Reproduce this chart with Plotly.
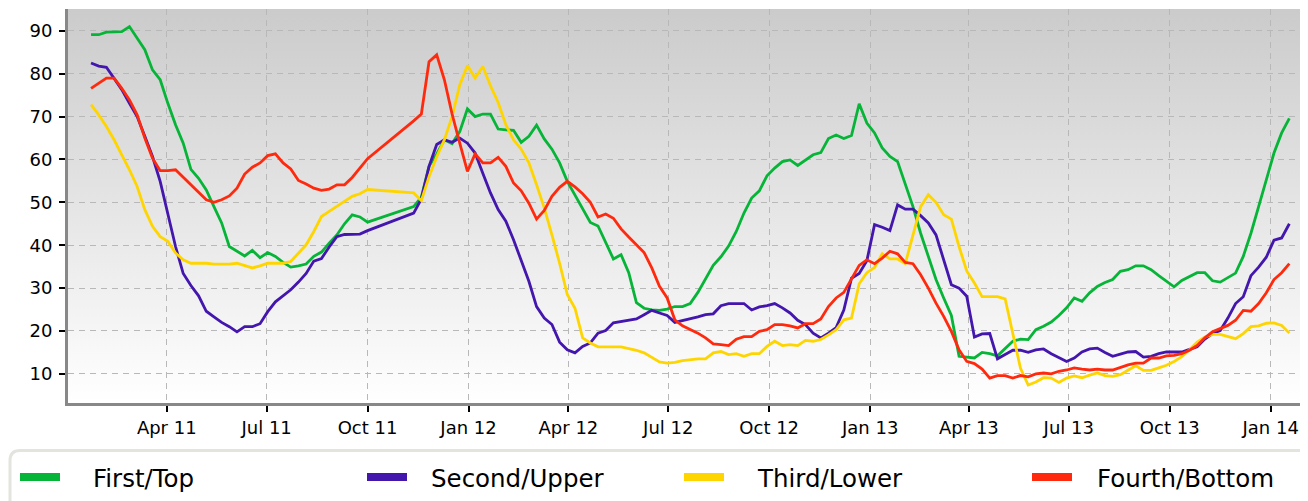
import base64
import pandas as pd
import plotly.graph_objects as go

# ---------------- data ----------------
start_week = "2011-01-22"
n_weeks = 157
gap_start, gap_end = "2011-10-08", "2011-11-05"   # weeks without data

all_weeks = pd.date_range(start_week, periods=n_weeks, freq="7D")
missing = pd.date_range(gap_start, gap_end, freq="7D")
dates = all_weeks.difference(missing)

series_names = ["First/Top", "Second/Upper", "Third/Lower", "Fourth/Bottom"]

first_top = [
    89.1, 89.1, 89.7, 89.7, 89.8, 91.0, 88.3, 85.6, 80.9, 78.6,
    73.1, 68.1, 63.8, 57.7, 55.6, 52.9, 49.0, 45.2, 39.7, 38.5,
    37.5, 38.8, 37.1, 38.3, 37.4, 36.0, 34.9, 35.2, 35.6, 37.4,
    38.4, 40.5, 42.4, 45.0, 47.1, 46.6, 45.4,
    49.0, 51.2, 58.4, 61.3, 64.6, 63.7, 66.5, 71.8, 70.0, 70.6,
    70.6, 67.1, 66.9, 66.8, 64.0, 65.4, 68.0, 64.8, 62.4, 59.2,
    54.9, 51.8, 48.4, 45.3, 44.5, 40.6, 36.8, 37.8, 33.6, 26.6,
    25.3, 24.9, 24.8, 25.1, 25.7, 25.7, 26.4, 29.0, 32.0, 35.3,
    37.3, 39.8, 43.2, 47.5, 51.0, 52.7, 56.2, 58.0, 59.5, 59.9,
    58.6, 59.8, 61.1, 61.6, 64.9, 65.7, 64.9, 65.6, 73.0, 68.5,
    66.2, 62.7, 60.7, 59.5, 54.5, 49.0, 42.8, 37.4, 32.0, 27.7,
    23.6, 14.1, 13.9, 13.7, 15.0, 14.7, 14.2, 16.0, 17.6, 18.1,
    18.0, 20.3, 21.1, 22.1, 23.6, 25.4, 27.7, 26.9, 28.9, 30.4,
    31.3, 32.0, 33.9, 34.3, 35.2, 35.2, 34.3, 32.9, 31.6, 30.3,
    31.8, 32.7, 33.6, 33.6, 31.7, 31.4, 32.4, 33.5, 37.4, 42.8,
    49.0, 55.3, 61.5, 66.2, 69.6,
]

second_upper = [
    82.5, 81.8, 81.5, 79.0, 76.3, 73.1, 70.0, 65.4, 60.7, 54.9,
    47.1, 39.7, 33.4, 30.6, 28.2, 24.6, 23.3, 22.0, 21.0, 19.8,
    21.0, 21.0, 21.7, 24.5, 26.8, 28.3, 29.6, 31.4, 33.4, 36.3,
    36.9, 39.6, 42.0, 42.5, 42.5, 42.6, 43.4,
    47.5, 50.8, 58.4, 63.5, 64.6, 64.0, 65.0, 63.8, 61.5, 56.8,
    52.2, 48.3, 45.6, 41.3, 36.6, 31.6, 25.7, 23.0, 21.5, 17.4,
    15.6, 14.9, 16.4, 17.2, 19.5, 20.1, 21.9, 22.2, 22.5, 22.8,
    23.8, 24.8, 24.2, 23.6, 22.0, 22.4, 22.8, 23.3, 23.8, 24.0,
    25.9, 26.4, 26.4, 26.4, 24.9, 25.6, 25.9, 26.4, 25.4, 24.2,
    22.5, 21.5, 19.5, 18.4, 19.5, 20.8, 24.9, 32.3, 33.4, 36.4,
    44.8, 44.2, 43.4, 49.4, 48.4, 48.4, 46.9, 45.2, 42.4, 36.6,
    30.8, 30.0, 28.1, 18.6, 19.3, 19.4, 13.5, 14.5, 15.5, 15.5,
    15.0, 15.6, 15.8, 14.7, 13.7, 12.9, 13.7, 15.1, 15.8, 16.0,
    15.0, 14.1, 14.6, 15.1, 15.2, 13.9, 14.1, 14.7, 15.1, 15.1,
    15.1, 15.7, 16.3, 18.1, 19.4, 20.1, 23.0, 26.4, 28.0, 32.9,
    34.9, 37.2, 41.2, 41.7, 45.0,
]

third_lower = [
    72.8, 70.4, 67.7, 64.6, 61.1, 57.6, 53.7, 48.3, 44.4, 42.0,
    40.9, 38.2, 36.6, 35.8, 35.8, 35.8, 35.6, 35.6, 35.6, 35.8,
    35.2, 34.7, 35.2, 35.8, 35.8, 35.8, 36.2, 38.2, 40.1, 43.2,
    46.7, 47.9, 49.0, 50.2, 51.4, 52.0, 53.0,
    52.2, 50.4, 56.0, 60.6, 64.6, 70.0, 77.4, 81.9, 79.0, 81.7,
    77.2, 73.3, 68.1, 64.6, 62.4, 59.2, 54.1, 48.7, 42.4, 35.8,
    28.5, 25.3, 18.4, 17.2, 16.3, 16.3, 16.4, 16.3, 15.9, 15.5,
    14.9, 13.9, 12.8, 12.5, 12.7, 13.1, 13.3, 13.5, 13.5, 14.9,
    15.2, 14.5, 14.7, 14.1, 14.7, 14.7, 16.4, 17.6, 16.6, 16.8,
    16.6, 17.8, 17.6, 18.0, 19.1, 20.3, 22.6, 23.0, 31.0, 33.6,
    34.8, 38.0, 36.8, 36.8, 35.7, 42.4, 49.0, 51.8, 50.0, 47.1,
    46.1, 39.7, 34.0, 31.2, 28.0, 28.0, 28.0, 27.5, 19.5, 11.3,
    7.4, 8.1, 9.1, 9.0, 8.0, 9.0, 9.5, 9.1, 9.7, 10.2,
    9.6, 9.4, 9.8, 10.8, 11.9, 10.8, 10.8, 11.4, 12.0, 12.9,
    14.0, 15.6, 17.4, 18.6, 19.2, 19.2, 18.7, 18.2, 19.4, 21.0,
    21.2, 21.8, 21.9, 21.3, 19.5,
]

fourth_bottom = [
    76.6, 77.8, 79.0, 79.0, 76.6, 73.9, 70.4, 65.0, 60.3, 57.4,
    57.4, 57.6, 55.8, 54.1, 52.2, 50.6, 50.0, 50.6, 51.5, 53.3,
    56.6, 58.2, 59.2, 60.9, 61.3, 59.2, 57.8, 55.1, 54.3, 53.3,
    52.8, 53.1, 54.1, 54.1, 55.8, 58.0, 60.2,
    69.0, 70.6, 82.8, 84.4, 78.6, 70.6, 63.8, 57.2, 61.3, 59.2,
    59.2, 60.5, 58.4, 54.5, 52.7, 49.8, 46.1, 48.1, 51.4, 53.5,
    54.9, 53.6, 52.0, 50.0, 46.6, 47.3, 46.3, 43.8, 41.9, 40.1,
    38.3, 34.7, 30.4, 27.7, 22.6, 21.2, 20.3, 19.5, 18.4, 17.0,
    16.8, 16.6, 18.1, 18.7, 18.7, 19.9, 20.3, 21.5, 21.5, 21.2,
    20.7, 21.7, 21.7, 22.8, 25.7, 27.7, 29.0, 32.3, 35.3, 36.6,
    35.7, 37.0, 38.6, 38.0, 36.0, 35.7, 33.1, 30.0, 26.5, 23.4,
    19.9, 15.6, 12.9, 12.4, 11.1, 9.0, 9.6, 9.6, 9.0, 9.6,
    9.3, 10.0, 10.2, 10.0, 10.6, 10.9, 11.4, 11.1, 10.9, 11.1,
    10.9, 10.9, 11.5, 12.1, 12.5, 12.5, 13.7, 13.7, 14.2, 14.3,
    14.7, 15.5, 16.6, 18.4, 19.8, 20.5, 21.3, 22.5, 24.8, 24.6,
    26.4, 28.9, 32.0, 33.6, 35.7,
]

tick_dates = ["2011-04-01", "2011-07-01", "2011-10-01", "2012-01-01",
              "2012-04-01", "2012-07-01", "2012-10-01", "2013-01-01",
              "2013-04-01", "2013-07-01", "2013-10-01", "2014-01-01"]
tick_labels = ["Apr 11", "Jul 11", "Oct 11", "Jan 12", "Apr 12", "Jul 12",
               "Oct 12", "Jan 13", "Apr 13", "Jul 13", "Oct 13", "Jan 14"]
y_ticks = [10, 20, 30, 40, 50, 60, 70, 80, 90]

# ---------------- styles ----------------
colors = ["#06b537", "#4316ad", "#ffd500", "#ff2a0e"]
FONT = "DejaVu Sans"

fig = go.Figure()
for name, vals, col in zip(series_names,
                           [first_top, second_upper, third_lower, fourth_bottom],
                           colors):
    fig.add_trace(go.Scatter(x=dates, y=vals, mode="lines", name=name,
                             line=dict(color=col, width=2.8),
                             showlegend=False))

# gradient background of plot area
svg = ('<svg xmlns="http://www.w3.org/2000/svg" width="100" height="100" '
       'preserveAspectRatio="none"><defs><linearGradient id="g" x1="0" y1="0" '
       'x2="0" y2="1"><stop offset="0" stop-color="#cbcbcb"/>'
       '<stop offset="1" stop-color="#ffffff"/></linearGradient></defs>'
       '<rect width="100" height="100" fill="url(#g)"/></svg>')
svg_uri = "data:image/svg+xml;base64," + base64.b64encode(svg.encode()).decode()

# page body adds an 8px offset; compensate so the plot area sits at
# page x 68..1308, y 9..403
OFF = 8
W, H = 1308, 501
L, R, T, B = 68 - OFF, OFF, 9 - OFF, H - (403 - OFF)
PW, PH = W - L - R, H - T - B


def px(x):  # page pixel -> paper x
    return (x - OFF - L) / PW


def py(y):  # page pixel -> paper y
    return (H - B - (y - OFF)) / PH


shapes = []
# legend box (rounded top-left corner, runs off the bottom/right edge)
x0, x1 = px(10), px(1330)
yt, yb = py(450.5), py(540)
rx, ry = 10 / PW, 10 / PH
shapes.append(dict(
    type="path", xref="paper", yref="paper",
    path=(f"M {x0},{yb} L {x0},{yt - ry} Q {x0},{yt} {x0 + rx},{yt} "
          f"L {x1},{yt} L {x1},{yb} Z"),
    line=dict(color="#e4e4de", width=3), fillcolor="#ffffff", layer="below"))

swatch_x = [20, 367, 684, 1032]
text_x = [91, 429, 755, 1095]
annotations = []
for name, col, sx, tx in zip(series_names, colors, swatch_x, text_x):
    shapes.append(dict(type="rect", xref="paper", yref="paper",
                       x0=px(sx), x1=px(sx + 40), y0=py(481), y1=py(473),
                       fillcolor=col, line=dict(width=0)))
    annotations.append(dict(text=name, xref="paper", yref="paper",
                            x=px(tx), y=py(479), xanchor="left",
                            yanchor="middle", showarrow=False,
                            font=dict(family=FONT, size=24.5, color="#000")))

fig.update_layout(
    width=W, height=H,
    margin=dict(l=L, r=R, t=T, b=B, pad=0),
    paper_bgcolor="#ffffff",
    plot_bgcolor="rgba(0,0,0,0)",
    images=[dict(source=svg_uri, xref="paper", yref="paper", x=0, y=1,
                 sizex=1, sizey=1, sizing="stretch", xanchor="left",
                 yanchor="top", layer="below")],
    shapes=shapes,
    annotations=annotations,
    showlegend=False,
    font=dict(family=FONT, size=18, color="#000"),
)

fig.update_xaxes(
    type="date", range=["2011-01-01", "2014-02-04"],
    tickmode="array", tickvals=tick_dates, ticktext=tick_labels,
    ticks="outside", ticklen=6, tickwidth=2, tickcolor="#000",
    showline=True, linecolor="#888888", linewidth=3,
    showgrid=True, gridcolor="#b8b8b8", gridwidth=1, griddash="6px,5px",
    zeroline=False, tickfont=dict(family=FONT, size=18, color="#000"),
)
fig.update_yaxes(
    range=[3.2, 95.1], tickmode="array", tickvals=y_ticks,
    ticks="outside", ticklen=6, tickwidth=2, tickcolor="#000",
    showline=True, linecolor="#888888", linewidth=3,
    showgrid=True, gridcolor="#b8b8b8", gridwidth=1, griddash="6px,5px",
    zeroline=False, ticklabelstandoff=3,
    tickfont=dict(family=FONT, size=18, color="#000"),
)

fig.write_html("out.html")
